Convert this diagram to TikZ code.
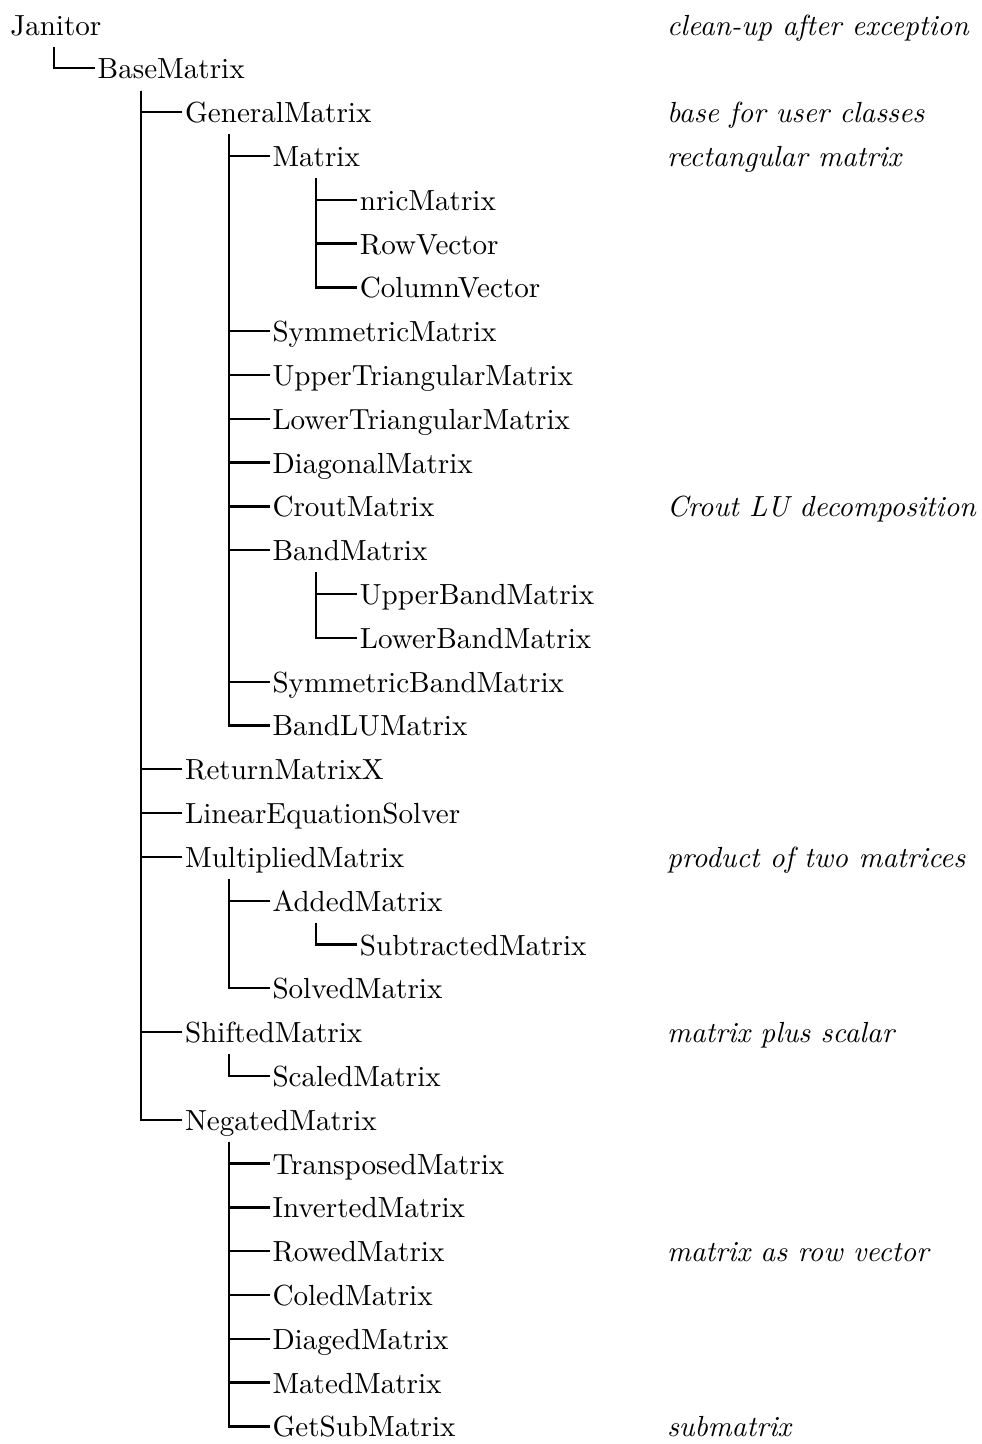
\documentclass[tikz,border=0pt]{standalone}
\usepackage{fontspec}
\begin{document}
\begin{tikzpicture}[x=0.3488pt,y=-0.3488pt,
  lbl/.style={anchor=base west,inner sep=0pt,outer sep=0pt,font=\fontsize{10.15}{12}\selectfont},
  note/.style={anchor=base west,inner sep=0pt,outer sep=0pt,font=\fontsize{10.15}{12}\selectfont\itshape},
  branch/.style={line width=0.8pt,line join=miter}]
\useasboundingbox (0,0) rectangle (982,1444);
% levels: x = 10.3 + 87.4 k ; rows: y = 35 + 43.81 i
\node[lbl] (n0)  at (10.3,35.00)   {Janitor};
\node[lbl] (n1)  at (97.7,78.81)   {BaseMatrix};
\node[lbl] (n2)  at (185.1,122.62) {GeneralMatrix};
\node[lbl] (n3)  at (272.5,166.43) {Matrix};
\node[lbl] (n4)  at (359.9,210.24) {nricMatrix};
\node[lbl] (n5)  at (359.9,254.05) {RowVector};
\node[lbl] (n6)  at (359.9,297.86) {ColumnVector};
\node[lbl] (n7)  at (272.5,341.67) {SymmetricMatrix};
\node[lbl] (n8)  at (272.5,385.48) {UpperTriangularMatrix};
\node[lbl] (n9)  at (272.5,429.29) {LowerTriangularMatrix};
\node[lbl] (n10) at (272.5,473.10) {DiagonalMatrix};
\node[lbl] (n11) at (272.5,516.91) {CroutMatrix};
\node[lbl] (n12) at (272.5,560.72) {BandMatrix};
\node[lbl] (n13) at (359.9,604.53) {UpperBandMatrix};
\node[lbl] (n14) at (359.9,648.34) {LowerBandMatrix};
\node[lbl] (n15) at (272.5,692.15) {SymmetricBandMatrix};
\node[lbl] (n16) at (272.5,735.96) {BandLUMatrix};
\node[lbl] (n17) at (185.1,779.77) {ReturnMatrixX};
\node[lbl] (n18) at (185.1,823.58) {LinearEquationSolver};
\node[lbl] (n19) at (185.1,867.39) {MultipliedMatrix};
\node[lbl] (n20) at (272.5,911.20) {AddedMatrix};
\node[lbl] (n21) at (359.9,955.01) {SubtractedMatrix};
\node[lbl] (n22) at (272.5,998.82) {SolvedMatrix};
\node[lbl] (n23) at (185.1,1042.63) {ShiftedMatrix};
\node[lbl] (n24) at (272.5,1086.44) {ScaledMatrix};
\node[lbl] (n25) at (185.1,1130.25) {NegatedMatrix};
\node[lbl] (n26) at (272.5,1174.06) {TransposedMatrix};
\node[lbl] (n27) at (272.5,1217.87) {InvertedMatrix};
\node[lbl] (n28) at (272.5,1261.68) {RowedMatrix};
\node[lbl] (n29) at (272.5,1305.49) {ColedMatrix};
\node[lbl] (n30) at (272.5,1349.30) {DiagedMatrix};
\node[lbl] (n31) at (272.5,1393.11) {MatedMatrix};
\node[lbl] (n32) at (272.5,1436.92) {GetSubMatrix};
% comments
\node[note] (c0)  at (667,35.00)   {clean-up after exception};
\node[note] (c2)  at (667,122.62)  {base for user classes};
\node[note] (c3)  at (667,166.43)  {rectangular matrix};
\node[note] (c11) at (667,516.91)  {Crout LU decomposition};
\node[note] (c19) at (667,867.39)  {product of two matrices};
\node[note] (c23) at (667,1042.63) {matrix plus scalar};
\node[note] (c28) at (667,1261.68) {matrix as row vector};
\node[note] (c32) at (667,1436.92) {submatrix};
% connectors
\foreach \p/\c in {n0/n1, n1/n2, n1/n17, n1/n18, n1/n19, n1/n23, n1/n25,
  n2/n3, n2/n7, n2/n8, n2/n9, n2/n10, n2/n11, n2/n12, n2/n15, n2/n16,
  n3/n4, n3/n5, n3/n6, n12/n13, n12/n14,
  n19/n20, n19/n22, n20/n21, n23/n24,
  n25/n26, n25/n27, n25/n28, n25/n29, n25/n30, n25/n31, n25/n32}
  \draw[branch] ([shift={(43.6,11.7)}]\p.base west) |- ([shift={(-3,-10.5)}]\c.base west);
\end{tikzpicture}
\end{document}
